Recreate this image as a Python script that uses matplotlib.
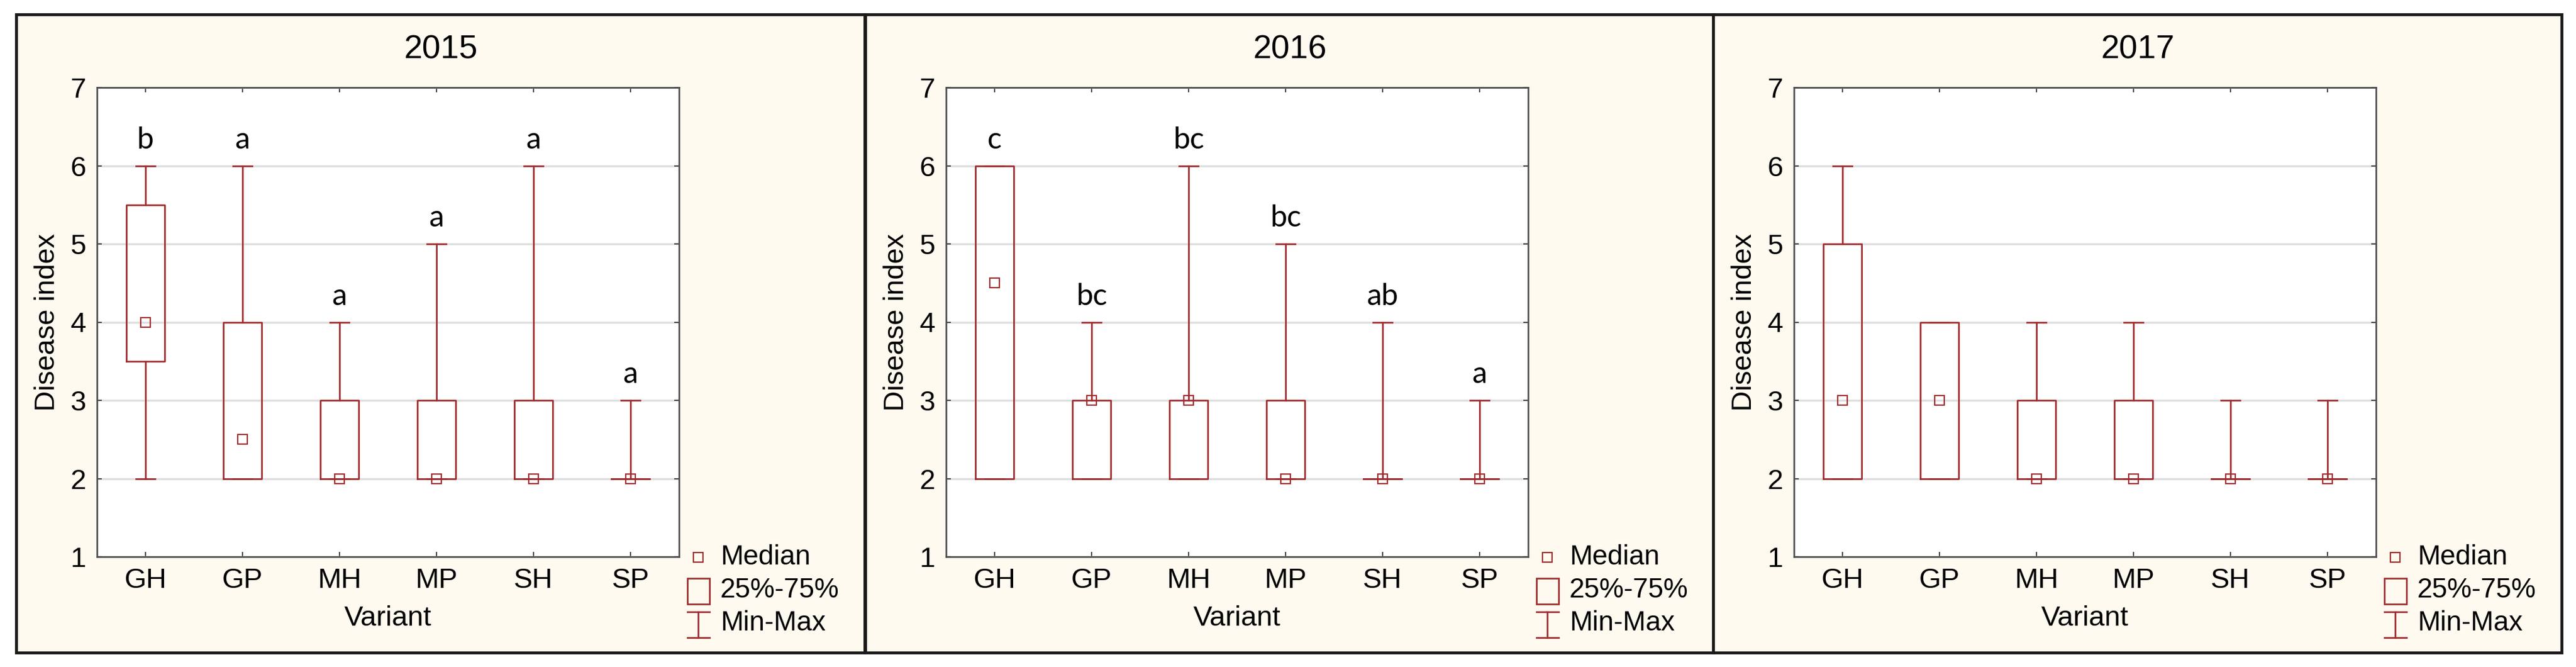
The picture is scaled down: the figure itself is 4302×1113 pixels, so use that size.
import numpy as np
import matplotlib.pyplot as plt
from matplotlib.patches import Rectangle

plt.rcParams['font.family'] = ['Liberation Sans', 'DejaVu Sans']

W, H, DPI = 4302, 1113, 100
RED = '#A02C2E'
PANEL_BG = '#FFFAEF'

VARIANTS = ['GH', 'GP', 'MH', 'MP', 'SH', 'SP']
YEARS = ['2015', '2016', '2017']

# ── Datos (min, q1, mediana, q3, max) ─────────────────────────────────────────
min_2015 = [2, 2, 2, 2, 2, 2]
q1_2015  = [3.5, 2, 2, 2, 2, 2]
med_2015 = [4, 2.5, 2, 2, 2, 2]
q3_2015  = [5.5, 4, 3, 3, 3, 2]
max_2015 = [6, 6, 4, 5, 6, 3]
let_2015 = ['b', 'a', 'a', 'a', 'a', 'a']

min_2016 = [2, 2, 2, 2, 2, 2]
q1_2016  = [2, 2, 2, 2, 2, 2]
med_2016 = [4.5, 3, 3, 2, 2, 2]
q3_2016  = [6, 3, 3, 3, 2, 2]
max_2016 = [6, 4, 6, 5, 4, 3]
let_2016 = ['c', 'bc', 'bc', 'bc', 'ab', 'a']

min_2017 = [2, 2, 2, 2, 2, 2]
q1_2017  = [2, 2, 2, 2, 2, 2]
med_2017 = [3, 3, 2, 2, 2, 2]
q3_2017  = [5, 4, 3, 3, 2, 2]
max_2017 = [6, 4, 4, 4, 3, 3]
let_2017 = [None] * 6

DATA = [
    (min_2015, q1_2015, med_2015, q3_2015, max_2015, let_2015),
    (min_2016, q1_2016, med_2016, q3_2016, max_2016, let_2016),
    (min_2017, q1_2017, med_2017, q3_2017, max_2017, let_2017),
]

# ── Layout (pixels) ───────────────────────────────────────────────────────────
PANEL_X = [27, 1445, 2861]
PANEL_W = 1417
PANEL_TOP, PANEL_BOT = 24, 1089
AX_OFF, AX_W = 135, 972
AX_TOP, AX_BOT = 146, 929

fig = plt.figure(figsize=(W / DPI, H / DPI), dpi=DPI, facecolor='white')

bg = fig.add_axes([0, 0, 1, 1], zorder=0)
bg.set_xlim(0, W)
bg.set_ylim(H, 0)
bg.axis('off')

x = np.arange(1, len(VARIANTS) + 1)

for i, (mn, q1, med, q3, mx, lets) in enumerate(DATA):
    PL = PANEL_X[i]
    bg.add_patch(Rectangle((PL, PANEL_TOP), PANEL_W, PANEL_BOT - PANEL_TOP,
                           facecolor=PANEL_BG, edgecolor='#1a1a1a', lw=3.5))
    bg.text(PL + PANEL_W / 2, 84, YEARS[i], ha='center', va='center', fontsize=40)

    # legend
    bg.plot([PL + 1139], [930], 's', ms=11, mfc='none', mec=RED, mew=1.6)
    bg.add_patch(Rectangle((PL + 1121, 965), 37, 43, facecolor='none', edgecolor=RED, lw=2))
    bg.plot([PL + 1139, PL + 1139], [1021, 1064], color=RED, lw=2)
    bg.plot([PL + 1121, PL + 1158], [1021, 1021], color=RED, lw=2)
    bg.plot([PL + 1121, PL + 1158], [1064, 1064], color=RED, lw=2)
    for yy, txt in zip([930, 985, 1040], ['Median', '25%-75%', 'Min-Max']):
        bg.text(PL + 1176, yy, txt, ha='left', va='center', fontsize=33)

    ax = fig.add_axes([(PL + AX_OFF) / W, 1 - AX_BOT / H, AX_W / W, (AX_BOT - AX_TOP) / H],
                      zorder=2)
    ax.set_facecolor('white')
    stats = [dict(whislo=a, q1=b, med=c, q3=d, whishi=e, fliers=[])
             for a, b, c, d, e in zip(mn, q1, med, q3, mx)]
    ax.bxp(stats, positions=x, widths=0.4, capwidths=0.2, showfliers=False,
           boxprops=dict(color=RED, lw=2),
           whiskerprops=dict(color=RED, lw=2),
           capprops=dict(color=RED, lw=2),
           medianprops=dict(linestyle='none'))
    ax.plot(x, med, 's', ms=11, mfc='none', mec=RED, mew=1.6, zorder=4)

    for xi, top, lab in zip(x, mx, lets):
        if lab:
            ax.text(xi, top + 0.22, lab, ha='center', va='baseline',
                    fontsize=36, family=['Lato', 'DejaVu Sans'])

    ax.set_xlim(0.5, 6.5)
    ax.set_ylim(1, 7)
    ax.set_yticks(range(1, 8))
    ax.set_xticks(x)
    ax.set_xticklabels(VARIANTS)
    ax.yaxis.grid(True, color='#dedede', lw=2.5)
    ax.set_axisbelow(True)
    for s in ax.spines.values():
        s.set_color('#505050')
        s.set_linewidth(2)
    ax.tick_params(direction='in', length=6, width=1.5, color='#444444',
                   top=True, right=True, labelsize=34, pad=13)
    ax.set_ylabel('Disease index', fontsize=34, labelpad=12)
    ax.set_xlabel('Variant', fontsize=34, labelpad=14)

fig.savefig('out.png', dpi=DPI, facecolor='white')
